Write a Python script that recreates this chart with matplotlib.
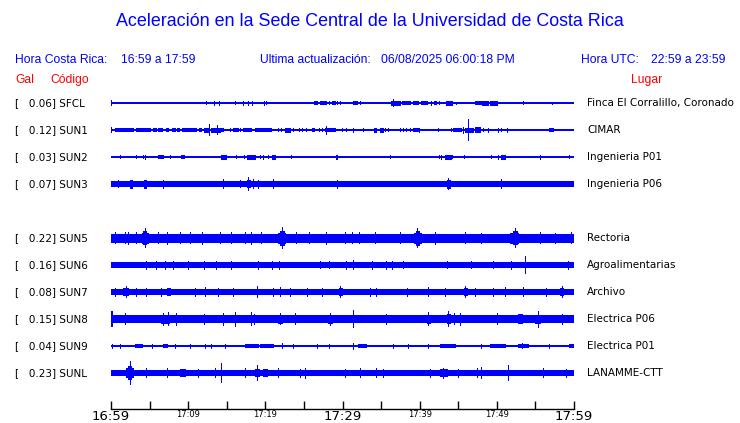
import matplotlib
matplotlib.use("Agg")
import matplotlib.pyplot as plt

# estaciones (fila 4 vacia)
codes = ["SFCL", "SUN1", "SUN2", "SUN3", "SUN5", "SUN6", "SUN7", "SUN8", "SUN9", "SUNL"]
gal = [0.06, 0.12, 0.03, 0.07, 0.22, 0.16, 0.08, 0.15, 0.04, 0.23]
lugares = ["Finca El Corralillo, Coronado", "CIMAR", "Ingenieria P01", "Ingenieria P06",
           "Rectoria", "Agroalimentarias", "Archivo", "Electrica P06", "Electrica P01",
           "LANAMME-CTT"]
rows = [0, 1, 2, 3, 5, 6, 7, 8, 9, 10]

# amplitud de fondo de cada traza
base = [1.0, 1.0, 1.0, 3.0, 4.5, 3.0, 3.0, 4.0, 1.0, 3.0]

# eventos: (minuto inicio, minuto fin, amplitud), minutos desde 16:59
ev_sfcl = [(0, 0, 3), (12.3, 12.3, 2), (13.3, 13.3, 2.5), (14.0, 14.0, 2.5), (16.1, 16.1, 2),
           (17.1, 17.1, 2.5), (17.7, 17.7, 2.5), (18.3, 18.3, 2.5), (19.8, 19.8, 2.5),
           (20.1, 20.1, 2), (26.3, 26.7, 2), (27.1, 27.9, 2), (28.3, 28.3, 2),
           (28.6, 29.0, 2), (29.3, 29.3, 2), (29.7, 29.7, 2), (31.3, 31.9, 2),
           (32.3, 32.3, 2), (36.3, 37.4, 2.5), (36.5, 36.5, 4), (37.7, 38.7, 2),
           (39.1, 39.8, 2), (40.2, 40.8, 2), (41.0, 41.0, 2), (41.5, 41.5, 2.5),
           (41.9, 42.1, 2), (42.5, 42.5, 2), (43.4, 44.2, 2.5), (44.7, 44.7, 1.5),
           (47.2, 47.4, 2), (47.6, 47.9, 2), (48.1, 48.9, 2.5), (49.1, 50.0, 2.5),
           (53.4, 53.4, 2), (57.2, 57.2, 1.5)]
ev_sun1 = [(0, 0, 3), (0.5, 1.9, 2), (2.1, 2.9, 2), (3.3, 5.1, 2), (5.4, 5.8, 2),
           (6.1, 6.6, 2), (7.1, 7.4, 2), (7.9, 8.1, 2), (8.3, 8.3, 2), (8.5, 8.8, 2),
           (9.2, 11.0, 2), (11.4, 11.7, 2), (12.1, 12.7, 2.5), (12.7, 12.7, 6),
           (13.0, 14.1, 2.5), (13.7, 13.7, 5), (14.3, 14.5, 2), (15.4, 15.4, 2),
           (15.8, 16.4, 2), (16.7, 16.7, 2), (17.1, 17.6, 2), (17.8, 18.2, 2),
           (18.7, 19.2, 2), (19.3, 20.7, 2), (21.7, 21.7, 2), (22.0, 22.0, 2),
           (22.5, 23.2, 2.5), (23.6, 23.6, 2), (24.3, 24.3, 2), (24.7, 24.7, 2),
           (25.3, 25.3, 2), (26.0, 26.3, 2), (27.0, 27.0, 2), (27.4, 27.4, 2),
           (27.7, 29.0, 2), (27.9, 27.9, 4.5), (29.9, 29.9, 2), (30.5, 30.5, 2),
           (31.3, 31.3, 2.5), (32.7, 32.7, 2), (34.1, 34.4, 2.5), (34.9, 35.2, 2.5),
           (35.5, 35.5, 2), (35.9, 35.9, 2), (37.4, 37.4, 2), (37.8, 37.8, 2),
           (38.2, 38.2, 2), (38.7, 38.7, 2), (39.2, 39.8, 2), (39.9, 39.9, 2.5),
           (42.4, 42.4, 2), (44.0, 44.0, 2), (44.3, 45.4, 2), (45.6, 45.6, 3.5),
           (45.9, 46.9, 2.5), (46.3, 46.3, 11), (47.2, 47.8, 3), (48.2, 48.2, 2),
           (48.8, 48.8, 2.5), (50.2, 50.2, 2.5), (50.5, 50.5, 2), (51.3, 51.3, 2.5),
           (56.7, 57.3, 2)]
ev_sun2 = [(1.2, 1.2, 2), (3.2, 3.2, 2), (4.2, 4.2, 2), (4.4, 4.4, 2.5), (6.1, 6.6, 2),
           (6.7, 6.7, 2), (7.6, 7.6, 2), (9.1, 9.4, 2), (14.3, 14.9, 2.5), (16.2, 16.2, 2),
           (17.3, 17.3, 2), (17.6, 18.7, 2.5), (19.3, 19.3, 2), (19.7, 19.7, 2.5),
           (20.4, 20.4, 2), (20.9, 21.3, 2.5), (23.3, 23.3, 2), (29.2, 29.3, 2.5),
           (36.1, 36.1, 2), (42.5, 42.5, 2), (42.8, 42.8, 2.5), (43.3, 44.0, 2.5),
           (44.2, 44.2, 2), (45.8, 45.8, 2), (49.2, 49.2, 2), (50.1, 50.1, 2.5),
           (50.5, 51.0, 2.5), (55.6, 55.6, 2.5), (59.3, 59.3, 2)]
ev_sun3 = [(0.9, 0.9, 4), (2.5, 2.7, 4.5), (4.3, 4.5, 4.5), (6.8, 6.8, 4.5), (14.5, 14.5, 5),
           (16.7, 16.7, 4), (17.6, 18.0, 4), (17.8, 17.8, 7), (18.4, 18.4, 5), (19.1, 19.1, 4.5),
           (21.0, 21.0, 5), (29.3, 29.3, 4.5), (43.5, 43.9, 4.5), (43.7, 43.7, 6),
           (50.6, 50.6, 5)]
ev_sun5 = [(0.5, 0.5, 6), (1.8, 1.8, 6), (2.2, 2.2, 6.5), (3.3, 3.3, 6), (4.0, 4.8, 5.5),
           (4.2, 4.6, 7), (4.4, 4.4, 10), (6.1, 6.1, 6), (7.2, 7.2, 6.5), (8.9, 8.9, 6),
           (10.2, 10.2, 6), (11.8, 11.8, 6.5), (14.1, 14.1, 6), (15.6, 15.6, 6),
           (17.4, 17.4, 6), (18.2, 18.2, 6.5), (19.5, 19.5, 6), (21.6, 22.6, 5.5),
           (21.9, 22.4, 7.5), (22.2, 22.2, 11), (24.0, 24.0, 6), (25.6, 25.6, 6),
           (27.9, 27.9, 6.5), (30.3, 30.3, 6), (31.2, 31.2, 6), (32.1, 32.1, 6),
           (34.2, 34.2, 6), (37.4, 37.4, 6), (39.3, 40.2, 5.5), (39.5, 39.9, 7.5),
           (39.6, 39.6, 10), (42.0, 42.0, 6.5), (45.9, 45.9, 6), (48.0, 48.0, 5.5),
           (51.7, 52.8, 5.5), (52.1, 52.6, 7), (52.4, 52.4, 10), (55.6, 55.6, 6),
           (57.5, 57.5, 5.5), (59.6, 59.6, 6)]
ev_sun6 = [(4.5, 4.5, 4.5), (5.8, 5.8, 4.5), (7.0, 7.0, 4.5), (8.0, 8.0, 4.5), (10.0, 10.0, 4.5),
           (12.0, 12.0, 4.5), (13.6, 13.6, 4.5), (15.6, 15.6, 4.5), (19.0, 19.0, 4.5),
           (20.8, 20.8, 4.5), (21.8, 21.8, 4.5), (27.1, 27.1, 4), (28.2, 28.2, 4),
           (30.5, 30.5, 4.5), (31.3, 31.3, 5), (33.8, 33.8, 4.5), (35.7, 35.7, 4.5),
           (36.4, 36.4, 4.5), (37.9, 37.9, 4), (43.5, 43.5, 4), (46.7, 46.7, 4),
           (49.5, 49.5, 4), (51.8, 51.8, 4.5), (53.6, 53.6, 9), (59.2, 59.2, 4.5)]
ev_sun7 = [(0.5, 0.5, 4.5), (1.5, 2.2, 4), (1.9, 1.9, 6), (3.3, 3.3, 4.5), (4.6, 4.6, 4.5),
           (6.5, 6.5, 4.5), (7.2, 7.6, 4), (10.9, 10.9, 4.5), (12.2, 12.2, 5),
           (13.9, 13.9, 4.5), (15.8, 15.8, 4.5), (18.9, 18.9, 6), (21.0, 21.0, 4.5),
           (21.9, 21.9, 5), (23.2, 23.2, 4.5), (25.4, 25.4, 4.5), (27.3, 27.3, 4.5),
           (29.5, 29.9, 4), (29.7, 29.7, 6), (33.6, 33.6, 4.5), (34.4, 34.4, 4.5),
           (38.3, 38.3, 4.5), (41.1, 41.1, 5), (43.3, 43.3, 4.5), (45.7, 46.1, 4),
           (45.9, 45.9, 6), (47.2, 47.2, 4.5), (49.5, 49.5, 4.5), (51.1, 51.1, 5),
           (53.4, 53.4, 5), (56.4, 56.4, 4.5), (58.2, 58.6, 4), (58.4, 58.4, 6)]
ev_sun8 = [(0.0, 0.1, 8), (1.8, 1.8, 6), (6.5, 7.5, 4.5), (6.8, 6.8, 6.5), (7.4, 7.4, 7),
           (8.4, 8.4, 6.5), (12.1, 12.1, 5.5), (14.5, 14.5, 6.5), (16.1, 16.1, 7.5),
           (18.2, 18.2, 7), (18.5, 18.5, 5.5), (21.7, 22.1, 4.5), (21.9, 21.9, 6),
           (23.8, 23.8, 6), (28.1, 28.6, 4.5), (28.4, 28.4, 6.5), (31.4, 31.4, 9),
           (35.7, 35.7, 5.5), (41.0, 41.3, 4.5), (41.1, 41.1, 7), (43.5, 43.9, 5),
           (43.7, 43.7, 8), (44.4, 44.4, 6), (45.2, 45.2, 6.5), (50.0, 50.0, 6),
           (52.8, 53.2, 5), (55.0, 55.6, 4.5), (55.3, 55.3, 8.5), (58.4, 58.4, 5.5)]
ev_sun9 = [(0.1, 0.1, 2.5), (1.2, 1.2, 2.5), (3.1, 4.0, 2), (5.3, 5.3, 2.5), (6.8, 7.2, 2),
           (8.3, 8.3, 2.5), (10.2, 10.2, 2.5), (12.2, 12.2, 2.5), (13.0, 13.0, 2.5),
           (14.8, 14.8, 2.5), (17.4, 19.1, 2), (19.3, 21.0, 2), (22.1, 22.1, 3),
           (23.6, 23.6, 2.5), (26.7, 26.7, 2.5), (28.2, 28.2, 2.5), (31.3, 31.3, 3.5),
           (32.0, 33.1, 2), (36.6, 36.6, 2.5), (38.5, 38.5, 2.5), (41.1, 41.1, 2.5),
           (42.6, 44.6, 2), (48.0, 48.0, 2.5), (49.1, 51.1, 2), (52.8, 54.1, 2),
           (53.2, 53.2, 3), (56.7, 56.7, 2.5), (59.3, 60.0, 2)]
ev_sunl = [(2.0, 2.9, 5), (2.2, 2.6, 7), (2.4, 2.4, 12), (4.6, 4.6, 5), (7.2, 7.2, 5),
           (8.9, 9.6, 4), (11.3, 11.3, 4.5), (13.5, 13.5, 5), (14.3, 14.3, 10),
           (17.4, 17.4, 5), (18.6, 19.2, 4), (18.9, 18.9, 8), (19.7, 20.2, 4),
           (21.7, 21.7, 5), (24.5, 24.5, 4.5), (25.1, 25.1, 5.5), (30.3, 30.3, 4.5),
           (32.3, 32.3, 5), (34.4, 34.4, 5), (35.3, 35.3, 4.5), (41.3, 41.3, 4.5),
           (42.6, 43.5, 4), (43.0, 43.0, 5.5), (45.0, 45.0, 4.5), (47.4, 47.4, 5),
           (48.0, 48.0, 6), (51.4, 51.4, 8), (56.0, 56.0, 5), (59.0, 59.0, 4.5)]
events = [ev_sfcl, ev_sun1, ev_sun2, ev_sun3, ev_sun5, ev_sun6, ev_sun7, ev_sun8, ev_sun9, ev_sunl]

tick_min = list(range(0, 61, 5))
tick_lab = ["16:59", "", "17:09", "", "17:19", "", "17:29", "", "17:39", "", "17:49", "", "17:59"]
big_labels = ["16:59", "17:29", "17:59"]

W, H = 740, 423
fig = plt.figure(figsize=(W / 100, H / 100), dpi=100)
BLUE = "#0000ff"
RED = "#ff0000"


def ftext(x, y, s, **kw):
    fig.text(x / W, 1 - y / H, s, va="center", **kw)


hdr = dict(family="Liberation Sans", color=BLUE, fontsize=8.7)
ftext(370, 22, "Aceleración en la Sede Central de la Universidad de Costa Rica",
      ha="center", family="Liberation Sans", color=BLUE, fontsize=12.9)
ftext(15, 60, "Hora Costa Rica:", **hdr)
ftext(121, 60, "16:59 a 17:59", **hdr)
ftext(260, 60, "Ultima actualización:", **hdr)
ftext(381, 60, "06/08/2025 06:00:18 PM", **hdr)
ftext(581, 60, "Hora UTC:", **hdr)
ftext(651, 60, "22:59 a 23:59", **hdr)
ftext(15, 80, "Gal", family="Liberation Sans", color=RED, fontsize=8.7)
ftext(50, 80, "Código", family="Liberation Sans", color=RED, fontsize=8.7)
ftext(631, 80, "Lugar", family="Liberation Sans", color=RED, fontsize=8.7)

x0, x1, ybot, ytop = 111, 574, 409, 85
ax = fig.add_axes([x0 / W, (H - ybot) / H, (x1 - x0) / W, (ybot - ytop) / H])
ax.set_xlim(0, 60)
ax.set_ylim(ybot, ytop)

dt = 60 / (x1 - x0)  # un pixel en minutos
for i, code in enumerate(codes):
    y = 103 + 27 * rows[i]
    b = base[i]
    ax.fill_between([0, 60], y - b, y + b, color=BLUE, lw=0, antialiased=False)
    for t0, t1, a in events[i]:
        ax.fill_between([t0, min(t1 + dt, 60)], y - a, y + a, color=BLUE, lw=0,
                        antialiased=False)
    ftext(15, y, "[%7.2f] %s" % (gal[i], code), family="DejaVu Sans", fontsize=7.5)
    ftext(587, y, lugares[i], family="DejaVu Sans", fontsize=7.5)

for s in ["top", "left", "right"]:
    ax.spines[s].set_visible(False)
ax.spines["bottom"].set_linewidth(1)
ax.set_yticks([])
ax.set_xticks(tick_min)
ax.set_xticklabels(tick_lab)
ax.tick_params(axis="x", direction="in", length=6, width=1, pad=1)
for lab in ax.get_xticklabels():
    if lab.get_text() in big_labels:
        lab.set_fontsize(9.5)
    else:
        lab.set_fontsize(6)

fig.savefig("out.png", dpi=100)
